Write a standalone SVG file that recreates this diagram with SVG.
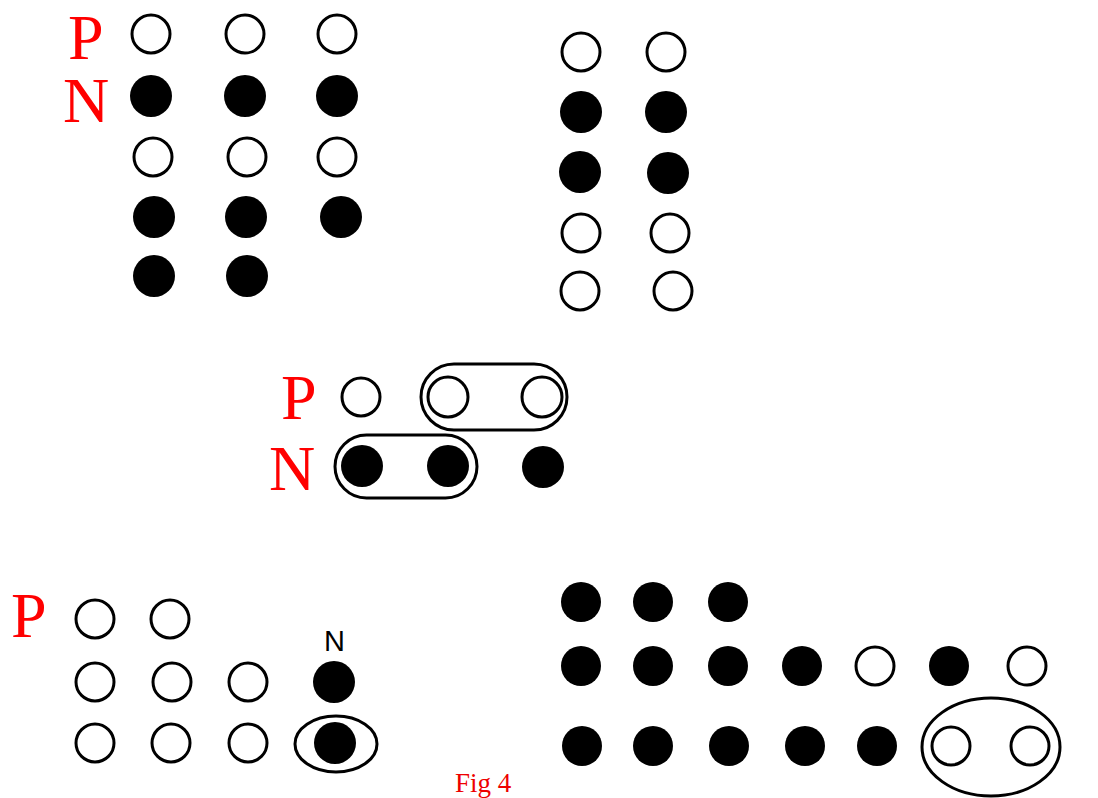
<svg xmlns="http://www.w3.org/2000/svg" width="1098" height="798" viewBox="0 0 1098 798">
<style>
.o{fill:#fff;stroke:#000;stroke-width:3}
.f{fill:#000}
.ring{fill:none;stroke:#000;stroke-width:3}
.lbl{font-family:"Liberation Serif","Times New Roman",serif;fill:#f00;font-size:64px}
.n{font-family:"Liberation Sans",Arial,sans-serif;fill:#000;font-size:29px}
.cap{font-family:"Liberation Serif","Times New Roman",serif;fill:#e00;font-size:27px}
</style>
<rect width="1098" height="798" fill="#fff"/>
<g id="group-top-left">
<text class="lbl" x="68" y="59">P</text>
<text class="lbl" x="63" y="122">N</text>
<circle class="o" cx="151" cy="34" r="19"/><circle class="o" cx="245" cy="34" r="19"/><circle class="o" cx="337" cy="34" r="19"/>
<circle class="f" cx="151" cy="96" r="21"/><circle class="f" cx="245" cy="96" r="21"/><circle class="f" cx="337" cy="96" r="21"/>
<circle class="o" cx="153" cy="157" r="19"/><circle class="o" cx="247" cy="157" r="19"/><circle class="o" cx="337" cy="157" r="19"/>
<circle class="f" cx="154" cy="217" r="21"/><circle class="f" cx="246" cy="217" r="21"/><circle class="f" cx="341" cy="217" r="21"/>
<circle class="f" cx="154" cy="276" r="21"/><circle class="f" cx="247" cy="276" r="21"/>
</g>
<g id="group-top-right">
<circle class="o" cx="581" cy="52" r="19"/><circle class="o" cx="666" cy="52" r="19"/>
<circle class="f" cx="581" cy="112" r="21"/><circle class="f" cx="666" cy="112" r="21"/>
<circle class="f" cx="580" cy="172" r="21"/><circle class="f" cx="668" cy="173" r="21"/>
<circle class="o" cx="581" cy="233" r="19"/><circle class="o" cx="670" cy="233" r="19"/>
<circle class="o" cx="580" cy="291" r="19"/><circle class="o" cx="673" cy="291" r="19"/>
</g>
<g id="group-middle">
<text class="lbl" x="281" y="419">P</text>
<text class="lbl" x="269" y="490">N</text>
<circle class="o" cx="361" cy="397" r="19"/>
<rect class="ring" x="421" y="364" width="146" height="66" rx="33"/>
<circle class="o" cx="448" cy="397" r="20"/><circle class="o" cx="542" cy="397" r="20"/>
<rect class="ring" x="335" y="435" width="142" height="63" rx="31.5"/>
<circle class="f" cx="362" cy="466" r="21"/><circle class="f" cx="448" cy="466" r="21"/><circle class="f" cx="543" cy="467" r="21"/>
</g>
<g id="group-bottom-left">
<text class="lbl" x="11" y="637">P</text>
<text class="n" x="324" y="651">N</text>
<circle class="o" cx="95" cy="619" r="19"/><circle class="o" cx="170" cy="619" r="19"/>
<circle class="o" cx="95" cy="682" r="19"/><circle class="o" cx="172" cy="682" r="19"/><circle class="o" cx="248" cy="682" r="19"/>
<circle class="f" cx="334" cy="682" r="21"/>
<circle class="o" cx="95" cy="743" r="19"/><circle class="o" cx="171" cy="743" r="19"/><circle class="o" cx="248" cy="743" r="19"/>
<ellipse class="ring" cx="336" cy="744" rx="41" ry="28"/>
<circle class="f" cx="335" cy="743" r="21"/>
</g>
<g id="group-bottom-right">
<circle class="f" cx="581" cy="602" r="20"/><circle class="f" cx="653" cy="602" r="20"/><circle class="f" cx="728" cy="602" r="20"/>
<circle class="f" cx="581" cy="666" r="20"/><circle class="f" cx="653" cy="666" r="20"/><circle class="f" cx="728" cy="666" r="20"/><circle class="f" cx="802" cy="666" r="20"/>
<circle class="o" cx="875" cy="666" r="19"/><circle class="f" cx="949" cy="666" r="20"/><circle class="o" cx="1027" cy="666" r="19"/>
<circle class="f" cx="582" cy="746" r="20"/><circle class="f" cx="653" cy="746" r="20"/><circle class="f" cx="729" cy="746" r="20"/><circle class="f" cx="805" cy="746" r="20"/><circle class="f" cx="877" cy="746" r="20"/>
<ellipse class="ring" cx="991" cy="747" rx="69" ry="49"/>
<circle class="o" cx="951" cy="746" r="19"/><circle class="o" cx="1030" cy="746" r="19"/>
</g>
<text class="cap" x="455" y="792">Fig 4</text>
</svg>
